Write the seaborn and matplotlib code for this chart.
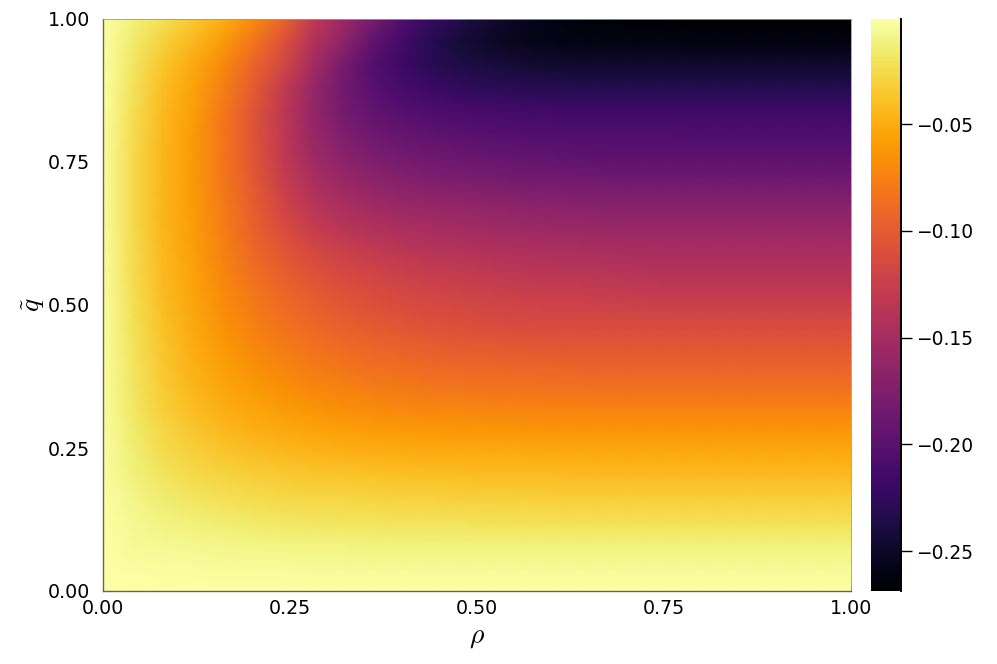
import pandas as pd
import seaborn as sns
import matplotlib.pyplot as plt

rho = [0.00, 0.04, 0.08, 0.12, 0.16, 0.20, 0.24, 0.28, 0.32, 0.36, 0.40, 0.44, 0.48,
       0.52, 0.56, 0.60, 0.64, 0.68, 0.72, 0.76, 0.80, 0.84, 0.88, 0.92, 0.96, 1.00]
q_tilde = [1.00, 0.96, 0.92, 0.88, 0.84, 0.80, 0.76, 0.72, 0.68, 0.64, 0.60, 0.56, 0.52,
           0.48, 0.44, 0.40, 0.36, 0.32, 0.28, 0.24, 0.20, 0.16, 0.12, 0.08, 0.04, 0.00]

# top row is q=1
valores = [
    [-.001,-.012,-.022,-.035,-.048,-.068,-.092,-.130,-.155,-.180,-.205,-.222,-.236,-.246,-.255,-.260,-.264,-.266,-.267,-.267,-.268,-.268,-.268,-.268,-.268,-.268],
    [-.001,-.016,-.031,-.044,-.060,-.082,-.108,-.140,-.165,-.195,-.215,-.232,-.243,-.250,-.255,-.258,-.260,-.260,-.260,-.260,-.261,-.261,-.261,-.261,-.261,-.261],
    [-.001,-.019,-.037,-.052,-.070,-.093,-.115,-.150,-.180,-.203,-.218,-.230,-.237,-.241,-.244,-.246,-.247,-.247,-.247,-.247,-.247,-.247,-.247,-.247,-.247,-.247],
    [-.001,-.021,-.041,-.056,-.076,-.100,-.128,-.158,-.183,-.200,-.212,-.220,-.225,-.228,-.230,-.232,-.233,-.233,-.233,-.233,-.233,-.233,-.233,-.233,-.233,-.233],
    [-.001,-.023,-.043,-.058,-.080,-.104,-.132,-.160,-.181,-.195,-.203,-.208,-.211,-.213,-.215,-.216,-.217,-.217,-.217,-.217,-.217,-.217,-.217,-.217,-.217,-.217],
    [-.002,-.024,-.044,-.060,-.082,-.105,-.132,-.158,-.175,-.187,-.193,-.197,-.200,-.202,-.204,-.205,-.206,-.206,-.206,-.206,-.207,-.207,-.207,-.207,-.207,-.207],
    [-.002,-.025,-.045,-.060,-.082,-.104,-.130,-.153,-.168,-.177,-.183,-.187,-.190,-.192,-.194,-.196,-.197,-.198,-.198,-.198,-.198,-.198,-.198,-.198,-.198,-.198],
    [-.002,-.025,-.045,-.060,-.081,-.102,-.126,-.146,-.158,-.167,-.172,-.176,-.178,-.180,-.182,-.183,-.184,-.185,-.186,-.186,-.186,-.186,-.186,-.186,-.186,-.186],
    [-.002,-.025,-.045,-.060,-.079,-.099,-.120,-.138,-.148,-.156,-.160,-.163,-.165,-.167,-.169,-.170,-.171,-.172,-.172,-.172,-.172,-.172,-.172,-.172,-.172,-.172],
    [-.002,-.025,-.045,-.059,-.077,-.095,-.113,-.128,-.138,-.144,-.148,-.151,-.153,-.155,-.157,-.158,-.159,-.160,-.160,-.160,-.160,-.160,-.160,-.160,-.160,-.160],
    [-.002,-.024,-.044,-.058,-.075,-.091,-.105,-.117,-.126,-.132,-.136,-.139,-.142,-.144,-.146,-.147,-.148,-.149,-.150,-.150,-.150,-.150,-.150,-.150,-.150,-.150],
    [-.002,-.024,-.043,-.056,-.072,-.086,-.098,-.108,-.115,-.121,-.125,-.129,-.131,-.133,-.135,-.136,-.137,-.138,-.139,-.140,-.140,-.140,-.140,-.140,-.140,-.140],
    [-.002,-.023,-.042,-.055,-.069,-.081,-.092,-.100,-.107,-.112,-.116,-.119,-.121,-.123,-.125,-.126,-.127,-.128,-.129,-.130,-.130,-.130,-.130,-.130,-.130,-.130],
    [-.002,-.022,-.040,-.053,-.066,-.077,-.086,-.094,-.100,-.105,-.108,-.111,-.113,-.115,-.116,-.117,-.118,-.118,-.118,-.118,-.118,-.118,-.118,-.118,-.118,-.118],
    [-.002,-.021,-.038,-.051,-.062,-.072,-.080,-.087,-.092,-.096,-.099,-.102,-.104,-.105,-.106,-.107,-.107,-.107,-.107,-.107,-.107,-.107,-.107,-.107,-.107,-.107],
    [-.002,-.020,-.036,-.048,-.058,-.067,-.074,-.080,-.084,-.088,-.090,-.092,-.093,-.094,-.095,-.096,-.097,-.097,-.097,-.097,-.097,-.097,-.097,-.097,-.097,-.097],
    [-.002,-.019,-.034,-.045,-.054,-.061,-.067,-.072,-.076,-.079,-.081,-.083,-.084,-.085,-.085,-.086,-.086,-.087,-.087,-.087,-.087,-.087,-.087,-.087,-.087,-.087],
    [-.002,-.018,-.032,-.041,-.049,-.055,-.060,-.064,-.067,-.069,-.071,-.072,-.073,-.074,-.074,-.075,-.075,-.075,-.075,-.075,-.075,-.075,-.075,-.075,-.075,-.075],
    [-.002,-.016,-.028,-.036,-.043,-.048,-.052,-.055,-.057,-.059,-.060,-.061,-.062,-.062,-.063,-.063,-.063,-.063,-.063,-.063,-.063,-.063,-.063,-.063,-.063,-.063],
    [-.002,-.014,-.024,-.031,-.036,-.040,-.043,-.045,-.047,-.048,-.049,-.050,-.050,-.051,-.051,-.052,-.052,-.052,-.052,-.052,-.052,-.052,-.052,-.052,-.052,-.052],
    [-.002,-.012,-.019,-.025,-.029,-.032,-.034,-.036,-.037,-.038,-.039,-.040,-.040,-.041,-.041,-.041,-.042,-.042,-.042,-.042,-.042,-.042,-.042,-.042,-.042,-.042],
    [-.001,-.009,-.015,-.019,-.022,-.024,-.026,-.027,-.028,-.029,-.030,-.030,-.031,-.031,-.031,-.032,-.032,-.032,-.032,-.032,-.032,-.032,-.032,-.032,-.032,-.032],
    [-.001,-.007,-.011,-.013,-.015,-.017,-.018,-.019,-.020,-.020,-.021,-.021,-.021,-.022,-.022,-.022,-.022,-.022,-.022,-.022,-.022,-.022,-.022,-.022,-.022,-.022],
    [-.001,-.005,-.007,-.008,-.009,-.010,-.011,-.011,-.011,-.012,-.012,-.012,-.012,-.012,-.012,-.012,-.012,-.012,-.012,-.012,-.012,-.012,-.012,-.012,-.012,-.012],
    [-.001,-.002,-.003,-.003,-.004,-.004,-.004,-.005,-.005,-.005,-.005,-.005,-.005,-.005,-.005,-.005,-.005,-.005,-.005,-.005,-.005,-.005,-.005,-.005,-.005,-.005],
    [-.001,-.001,-.001,-.001,-.001,-.001,-.001,-.001,-.001,-.001,-.001,-.001,-.001,-.001,-.001,-.001,-.001,-.001,-.001,-.001,-.001,-.001,-.001,-.001,-.001,-.001],
]

ticks_ejes = [0.00, 0.25, 0.50, 0.75, 1.00]
ticks_barra = [-0.05, -0.10, -0.15, -0.20, -0.25]

df = pd.DataFrame(valores, index=q_tilde, columns=rho)

sns.set_theme(style="white")
plt.rcParams["font.family"] = "DejaVu Sans"
plt.rcParams["mathtext.fontset"] = "cm"

W, H = 997, 664
fig = plt.figure(figsize=(W / 100, H / 100), dpi=100)
ax = fig.add_axes([103 / W, 1 - 591 / H, 748 / W, 572 / H])
cax = fig.add_axes([871 / W, 1 - 591 / H, 30 / W, 572 / H])

sns.heatmap(
    df,
    ax=ax,
    cbar_ax=cax,
    cmap="inferno",
    vmin=-0.2687,
    vmax=-0.0008,
    xticklabels=False,
    yticklabels=False,
    shading="gouraud",
    cbar_kws={"ticks": ticks_barra},
)

# grid nodes run 0..n-1, heatmap leaves room for one more cell
paso = rho[1] - rho[0]
ax.set_xlim(0, len(rho) - 1)
ax.set_ylim(len(q_tilde) - 1, 0)
ax.set_xticks([v / paso for v in ticks_ejes])
ax.set_xticklabels([f"{v:.2f}" for v in ticks_ejes], fontsize=13.7, color="black")
ax.set_yticks([(1 - v) / paso for v in ticks_ejes])
ax.set_yticklabels([f"{v:.2f}" for v in ticks_ejes], fontsize=13.7, color="black")
ax.tick_params(axis="x", direction="in", length=4, width=0.6, color="#555555", pad=6, bottom=True)
ax.tick_params(axis="y", direction="in", length=4, width=0.6, color="#555555", pad=9.5, left=True)
ax.set_xlabel(r"$\rho$", fontsize=20, color="black", labelpad=3)
ax.set_ylabel(r"$\tilde{q}$", fontsize=20, color="black", labelpad=0)

for lado in ["top", "right"]:
    ax.spines[lado].set_visible(True)
    ax.spines[lado].set_color("#9a9a9a")
    ax.spines[lado].set_linewidth(0.6)
for lado in ["left", "bottom"]:
    ax.spines[lado].set_visible(True)
    ax.spines[lado].set_color("#666650")
    ax.spines[lado].set_linewidth(1.0)

cax.set_yticklabels(["\u22120.05", "\u22120.10", "\u22120.15", "\u22120.20", "\u22120.25"], fontsize=13.4, color="black")
cax.tick_params(axis="y", direction="out", length=8, width=1.0, color="black", pad=3, right=True)
cax.spines["right"].set_visible(True)
cax.spines["right"].set_color("black")
cax.spines["right"].set_linewidth(1.4)

plt.savefig("out.png", dpi=100)
plt.close()
